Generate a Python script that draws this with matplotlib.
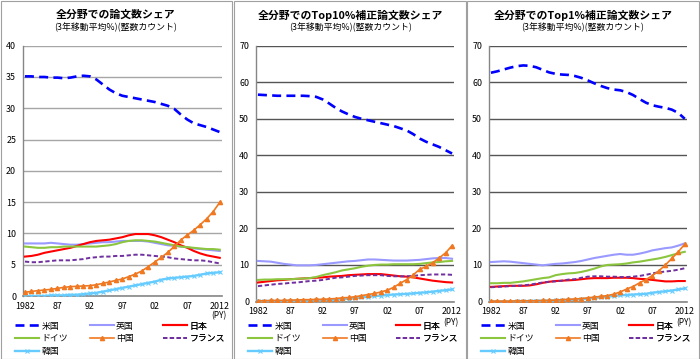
import matplotlib
matplotlib.use("Agg")
import matplotlib.pyplot as plt
from matplotlib.patches import Rectangle

plt.rcParams['font.family'] = ['Noto Sans CJK JP', 'DejaVu Sans']

years = list(range(1982, 2013))
xtick_years = [1982, 1987, 1992, 1997, 2002, 2007, 2012]
xtick_labels = ["1982", "87", "92", "97", "02", "07", "2012"]

countries = ["米国", "英国", "日本", "ドイツ", "中国", "フランス", "韓国"]

titles = ["全分野での論文数シェア", "全分野でのTop10%補正論文数シェア", "全分野でのTop1%補正論文数シェア"]
subtitle = "(3年移動平均%)(整数カウント)"

# Panel 1: all papers
p1_us = [35.1, 35.1, 35.0, 35.0, 34.9, 34.9, 34.8, 34.9, 35.1, 35.2, 35.1, 34.6, 33.8, 33.0, 32.4, 32.0,
         31.8, 31.6, 31.4, 31.2, 31.0, 30.7, 30.4, 29.9, 29.0, 28.2, 27.6, 27.3, 27.0, 26.6, 26.2]
p1_uk = [8.4, 8.4, 8.4, 8.4, 8.5, 8.4, 8.3, 8.2, 8.2, 8.3, 8.4, 8.5, 8.6, 8.6, 8.7, 8.8,
         8.8, 8.8, 8.8, 8.7, 8.5, 8.3, 8.1, 8.0, 7.9, 7.8, 7.6, 7.5, 7.4, 7.3, 7.2]
p1_jp = [6.3, 6.4, 6.6, 6.9, 7.1, 7.3, 7.5, 7.7, 8.0, 8.3, 8.6, 8.8, 8.9, 9.0, 9.2, 9.4,
         9.7, 9.9, 9.9, 9.9, 9.7, 9.4, 9.0, 8.6, 8.1, 7.7, 7.2, 6.8, 6.5, 6.3, 6.1]
p1_de = [7.9, 7.8, 7.7, 7.7, 7.8, 7.8, 7.9, 7.9, 7.9, 7.9, 7.9, 7.9, 8.0, 8.1, 8.3, 8.6,
         8.8, 8.9, 8.9, 8.8, 8.7, 8.5, 8.3, 8.1, 7.9, 7.8, 7.7, 7.6, 7.5, 7.5, 7.4]
p1_cn = [0.59, 0.74, 0.85, 0.96, 1.06, 1.22, 1.38, 1.49, 1.55, 1.6, 1.65, 1.8, 2.02, 2.24, 2.5, 2.72,
         3.1, 3.5, 4.0, 4.7, 5.43, 6.17, 6.97, 7.93, 8.95, 9.74, 10.5, 11.4, 12.36, 13.5, 14.96]
p1_fr = [5.5, 5.4, 5.4, 5.5, 5.6, 5.7, 5.7, 5.7, 5.8, 5.9, 6.1, 6.2, 6.3, 6.3, 6.4, 6.4,
         6.5, 6.6, 6.6, 6.5, 6.4, 6.3, 6.2, 6.0, 5.9, 5.8, 5.7, 5.7, 5.6, 5.4, 5.2]
p1_kr = [0.0, 0.0, 0.0, 0.0, 0.1, 0.1, 0.1, 0.2, 0.2, 0.3, 0.4, 0.5, 0.7, 0.9, 1.1, 1.3,
         1.5, 1.7, 1.9, 2.1, 2.3, 2.6, 2.8, 2.9, 3.0, 3.1, 3.2, 3.4, 3.6, 3.7, 3.8]

# Panel 2: Top10%
p2_us = [56.6, 56.5, 56.4, 56.3, 56.3, 56.3, 56.3, 56.3, 56.2, 56.0, 55.3, 54.2, 53.0, 52.0, 51.2, 50.5,
         50.0, 49.6, 49.2, 48.8, 48.4, 48.0, 47.4, 46.8, 45.8, 44.6, 43.7, 43.0, 42.3, 41.4, 40.5]
p2_uk = [11.1, 11.0, 10.9, 10.6, 10.3, 10.1, 9.9, 9.9, 9.9, 10.0, 10.2, 10.4, 10.6, 10.8, 11.0, 11.1,
         11.3, 11.5, 11.5, 11.4, 11.3, 11.2, 11.2, 11.2, 11.3, 11.4, 11.6, 11.8, 11.9, 11.9, 11.7]
p2_jp = [5.2, 5.4, 5.6, 5.8, 5.9, 6.1, 6.2, 6.3, 6.4, 6.5, 6.6, 6.8, 6.9, 7.0, 7.2, 7.3,
         7.4, 7.5, 7.5, 7.5, 7.3, 7.1, 6.9, 6.8, 6.6, 6.3, 6.0, 5.7, 5.5, 5.3, 5.2]
p2_de = [5.9, 6.0, 6.0, 6.1, 6.1, 6.1, 6.2, 6.3, 6.4, 6.7, 7.2, 7.6, 8.0, 8.5, 8.8, 9.1,
         9.5, 9.8, 10.0, 10.1, 10.1, 10.2, 10.2, 10.2, 10.2, 10.3, 10.5, 10.7, 10.8, 11.0, 11.1]
p2_cn = [0.2, 0.2, 0.3, 0.3, 0.3, 0.4, 0.4, 0.5, 0.5, 0.6, 0.6, 0.7, 0.8, 1.0, 1.1, 1.3,
         1.6, 1.9, 2.2, 2.6, 3.1, 3.9, 5.0, 6.0, 7.3, 8.8, 9.6, 10.6, 11.9, 13.3, 15.3]
p2_fr = [4.2, 4.4, 4.6, 4.8, 4.9, 5.1, 5.2, 5.4, 5.6, 5.7, 5.9, 6.2, 6.5, 6.6, 6.8, 7.0,
         7.1, 7.2, 7.2, 7.2, 7.0, 6.9, 6.9, 6.9, 7.0, 7.2, 7.3, 7.4, 7.4, 7.4, 7.3]
p2_kr = [0.1, 0.1, 0.1, 0.1, 0.1, 0.1, 0.2, 0.2, 0.2, 0.3, 0.3, 0.4, 0.5, 0.6, 0.8, 0.9,
         1.1, 1.3, 1.5, 1.6, 1.8, 1.9, 2.0, 2.1, 2.2, 2.4, 2.5, 2.7, 2.9, 3.1, 3.3]

# Panel 3: Top1%
p3_us = [62.6, 63.0, 63.5, 64.0, 64.4, 64.6, 64.5, 64.1, 63.4, 62.7, 62.3, 62.1, 62.0, 61.7, 61.2, 60.5,
         59.7, 59.0, 58.4, 58.0, 57.8, 57.3, 56.5, 55.4, 54.4, 53.7, 53.3, 53.0, 52.5, 51.6, 50.0]
p3_uk = [10.8, 10.9, 11.0, 10.9, 10.7, 10.5, 10.3, 10.1, 9.9, 10.1, 10.3, 10.4, 10.6, 10.8, 11.1, 11.5,
         11.9, 12.2, 12.5, 12.8, 13.0, 12.8, 12.8, 13.1, 13.5, 14.0, 14.3, 14.6, 14.8, 15.3, 15.9]
p3_jp = [4.0, 4.1, 4.2, 4.3, 4.3, 4.3, 4.4, 4.7, 5.1, 5.4, 5.6, 5.7, 5.8, 5.9, 6.1, 6.3,
         6.4, 6.4, 6.4, 6.5, 6.5, 6.5, 6.4, 6.2, 6.1, 5.9, 5.7, 5.5, 5.5, 5.6, 5.6]
p3_de = [5.0, 5.0, 5.1, 5.1, 5.3, 5.5, 5.8, 6.1, 6.4, 6.6, 7.2, 7.5, 7.7, 7.8, 8.1, 8.5,
         9.0, 9.6, 10.0, 10.1, 10.2, 10.4, 10.7, 10.9, 11.2, 11.5, 11.8, 12.2, 12.7, 13.2, 13.6]
p3_cn = [0.1, 0.1, 0.1, 0.1, 0.2, 0.2, 0.2, 0.2, 0.3, 0.3, 0.4, 0.5, 0.6, 0.7, 0.8, 1.0,
         1.2, 1.4, 1.6, 2.0, 2.6, 3.4, 4.1, 5.1, 6.0, 7.1, 8.4, 10.0, 11.8, 13.6, 15.7]
p3_fr = [3.9, 4.0, 4.1, 4.2, 4.3, 4.4, 4.6, 4.9, 5.2, 5.4, 5.5, 5.7, 6.0, 6.1, 6.5, 6.8,
         6.9, 6.9, 6.8, 6.8, 6.7, 6.7, 6.8, 7.0, 7.3, 7.7, 8.0, 8.2, 8.4, 8.7, 9.1]
p3_kr = [0.0, 0.0, 0.0, 0.0, 0.1, 0.1, 0.1, 0.2, 0.2, 0.2, 0.3, 0.3, 0.4, 0.5, 0.6, 0.8,
         1.0, 1.1, 1.3, 1.5, 1.7, 1.8, 1.9, 2.0, 2.1, 2.4, 2.6, 2.8, 3.0, 3.3, 3.6]

panels = [
    [p1_us, p1_uk, p1_jp, p1_de, p1_cn, p1_fr, p1_kr],
    [p2_us, p2_uk, p2_jp, p2_de, p2_cn, p2_fr, p2_kr],
    [p3_us, p3_uk, p3_jp, p3_de, p3_cn, p3_fr, p3_kr],
]
ymaxes = [40, 70, 70]
ysteps = [5, 10, 10]

W, H = 700, 359
fig = plt.figure(figsize=(7.0, 3.59), dpi=100)

def fx(px):
    return px / W

def fy(py):
    return 1 - py / H

# axes pixel boxes: left, right, top, bottom
boxes = [(23, 221.7, 45.7, 296.0), (256, 454, 45.7, 301.5), (489, 686.7, 45.7, 301.5)]
panel_x0 = [0, 233, 466]
panel_w = [233, 233, 233]
title_cx = [116, 350.5, 583]

styles = [
    dict(color='#0000FF', lw=1.9, ls=(0, (3.4, 2.0))),
    dict(color='#9999FF', lw=1.5),
    dict(color='#FF0000', lw=1.5),
    dict(color='#8CC63F', lw=1.5),
    dict(color='#F07820', lw=1.2, marker='^', ms=3.0, mec='#F07820', mfc='#F07820'),
    dict(color='#7030A0', lw=1.4, ls=(0, (2.2, 1.3))),
    dict(color='#66CCFF', lw=1.7, marker='x', ms=2.6, mew=0.8, mec='#66CCFF'),
]

grid_colors = ['#A6A6A6', '#555555', '#555555']

for i in range(3):
    l, r, t, b = boxes[i]
    ax = fig.add_axes([fx(l), fy(b), fx(r - l), (b - t) / H])
    handles = []
    for k, series in enumerate(panels[i]):
        ln, = ax.plot(years, series, label=countries[k], zorder=3 + (1 if k == 4 else 0), **styles[k])
        handles.append(ln)
    ax.set_xlim(1981.7, 2012.3)
    ax.set_ylim(0, ymaxes[i])
    ax.set_yticks(list(range(0, ymaxes[i] + 1, ysteps[i])))
    ax.set_xticks(xtick_years)
    ax.set_xticklabels(xtick_labels)
    ax.tick_params(axis='both', length=0, labelsize=6.4, colors='#000000')
    ax.tick_params(axis='y', pad=5)
    ax.tick_params(axis='x', pad=4)
    ax.grid(axis='y', color=grid_colors[i], lw=1.0)
    ax.set_axisbelow(True)
    for s in ['top', 'right']:
        ax.spines[s].set_visible(False)
    ax.spines['left'].set_color('#868686')
    ax.spines['bottom'].set_color('#868686')
    ax.spines['left'].set_linewidth(1.0)
    ax.spines['bottom'].set_linewidth(1.2)

    # titles
    fig.text(fx(title_cx[i]), fy(15), titles[i], ha='center', va='center', fontsize=7.8, fontweight='bold')
    fig.text(fx(title_cx[i]), fy(27.5), subtitle, ha='center', va='center', fontsize=6.4)

    # (PY)
    py_y = 316 if i == 0 else 322.5
    fig.text(fx(r - 3), fy(py_y), "(PY)", ha='center', va='center', fontsize=6.0)

    # legends (3 columns)
    x0 = panel_x0[i]
    cols = [[0, 3, 6], [1, 4], [2, 5]]
    col_x = [15, 89.5, 163]
    for c, idxs in enumerate(cols):
        leg = ax.legend(handles=[handles[j] for j in idxs], loc='upper left',
                        bbox_to_anchor=(fx(x0 + col_x[c]), fy(321.5)),
                        bbox_transform=fig.transFigure, frameon=False, borderpad=0,
                        borderaxespad=0, fontsize=6.4, handlelength=2.7, handletextpad=0.3,
                        labelspacing=0.4)
        ax.add_artist(leg)

    # panel border
    fig.add_artist(Rectangle((fx(x0 + 0.5), fy(358.5)), fx(panel_w[i] - 1), 357.5 / H,
                             transform=fig.transFigure, fill=False, ec='#A0A0A0', lw=0.8))

fig.savefig("out.png", dpi=100)
